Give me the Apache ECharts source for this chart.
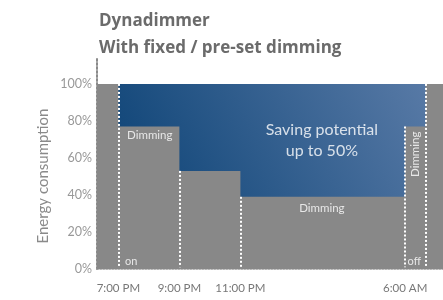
<!DOCTYPE html>
<html>
<head>
<meta charset="utf-8">
<script src="https://cdn.jsdelivr.net/npm/echarts@6/dist/echarts.min.js"></script>
<style>html,body{margin:0;padding:0;background:#fff}#c{width:443px;height:300px}</style>
</head>
<body>
<div id="c"></div>
<script>
// x positions are schedule positions (chart units, 7:00 PM = 0)
const tickPositions = [0, 2, 4, 9.4];
const tickLabels = ['7:00 PM', '9:00 PM', '11:00 PM', '6:00 AM'];
const stepStarts = [-0.7, 0, 2, 4, 9.4, 10.07, 10.64];
const stepLevels = [100, 77, 53, 39, 77, 100, 100];
const yTicks = [0, 20, 40, 60, 80, 100];
const markerLines = [[0, 100], [2, 53], [4, 39], [9.4, 77], [10.07, 100]];
const notes = [
  {name: 'Dimming', value: [1.03, 72], size: 11.5, rotate: 0},
  {name: 'Saving potential\nup to 50%', value: [6.67, 69.5], size: 16, rotate: 0},
  {name: 'Dimming', value: [6.67, 32.6], size: 11.5, rotate: 0},
  {name: 'Dimming', value: [9.74, 62], size: 11.5, rotate: 90},
  {name: 'on', value: [0.42, 4.3], size: 11, rotate: 0},
  {name: 'off', value: [9.7, 4.3], size: 11, rotate: 0}
];

const FONT = 'Lato';
const chart = echarts.init(document.getElementById('c'));
const stepData = stepStarts.map((x, i) => [x, stepLevels[i]]);
chart.setOption({
  animation: false,
  title: {
    text: 'Dynadimmer\nWith fixed / pre-set dimming',
    left: 94, top: 3,
    textStyle: {fontFamily: 'Open Sans', fontSize: 17, fontWeight: 'bold', color: '#6b6b6b', lineHeight: 27}
  },
  graphic: [{
    type: 'text', x: 43, y: 176, rotation: Math.PI / 2,
    style: {text: 'Energy consumption', fontFamily: FONT, fontSize: 15, fill: '#8a8a8a', align: 'center', verticalAlign: 'middle'}
  }],
  grid: {left: 97, right: 0, top: 58, bottom: 31},
  xAxis: {
    type: 'value', min: stepStarts[0], max: stepStarts[stepStarts.length - 1],
    splitLine: {show: false},
    axisLine: {show: true, lineStyle: {color: '#9a9a9a', type: 'dotted', width: 1.5}},
    axisTick: {show: false},
    axisLabel: {
      customValues: tickPositions, margin: 13,
      fontFamily: FONT, fontSize: 11.5, color: '#777',
      formatter: v => { const i = tickPositions.indexOf(v); return i >= 0 ? tickLabels[i] : ''; }
    }
  },
  yAxis: {
    type: 'value', min: 0, max: 114,
    splitLine: {show: false},
    axisLine: {show: true, onZero: false, lineStyle: {color: '#8a8a8a', type: 'dotted', width: 2}},
    axisTick: {show: false},
    axisLabel: {customValues: yTicks, margin: 5, fontFamily: FONT, fontSize: 12.5, color: '#999', formatter: v => v + '%'}
  },
  series: [
    {
      type: 'line', z: 1, symbol: 'none',
      data: [[stepStarts[0], 100], [stepStarts[stepStarts.length - 1], 100]],
      lineStyle: {width: 0},
      areaStyle: {opacity: 1, color: new echarts.graphic.LinearGradient(0, 1, 1, 0, [
        {offset: 0, color: '#003a6e'}, {offset: 1, color: '#5b7ca8'}])}
    },
    {
      type: 'line', z: 2, symbol: 'none', step: 'end',
      data: stepData,
      lineStyle: {width: 0},
      areaStyle: {opacity: 1, color: '#888888'},
      markLine: {
        silent: true, symbol: 'none', label: {show: false},
        lineStyle: {color: '#ffffff', type: 'dotted', width: 2},
        data: markerLines.map(p => [{coord: [p[0], p[1]]}, {coord: [p[0], 1]}])
      }
    },
    {
      type: 'scatter', z: 5, symbolSize: 0,
      data: notes.map(n => ({
        name: n.name, value: n.value,
        label: {show: true, position: 'inside', formatter: n.name, rotate: n.rotate,
          fontFamily: FONT, fontSize: n.size, color: '#fff', lineHeight: n.size * 1.35, align: 'center'}
      }))
    }
  ]
});
</script>
</body>
</html>
